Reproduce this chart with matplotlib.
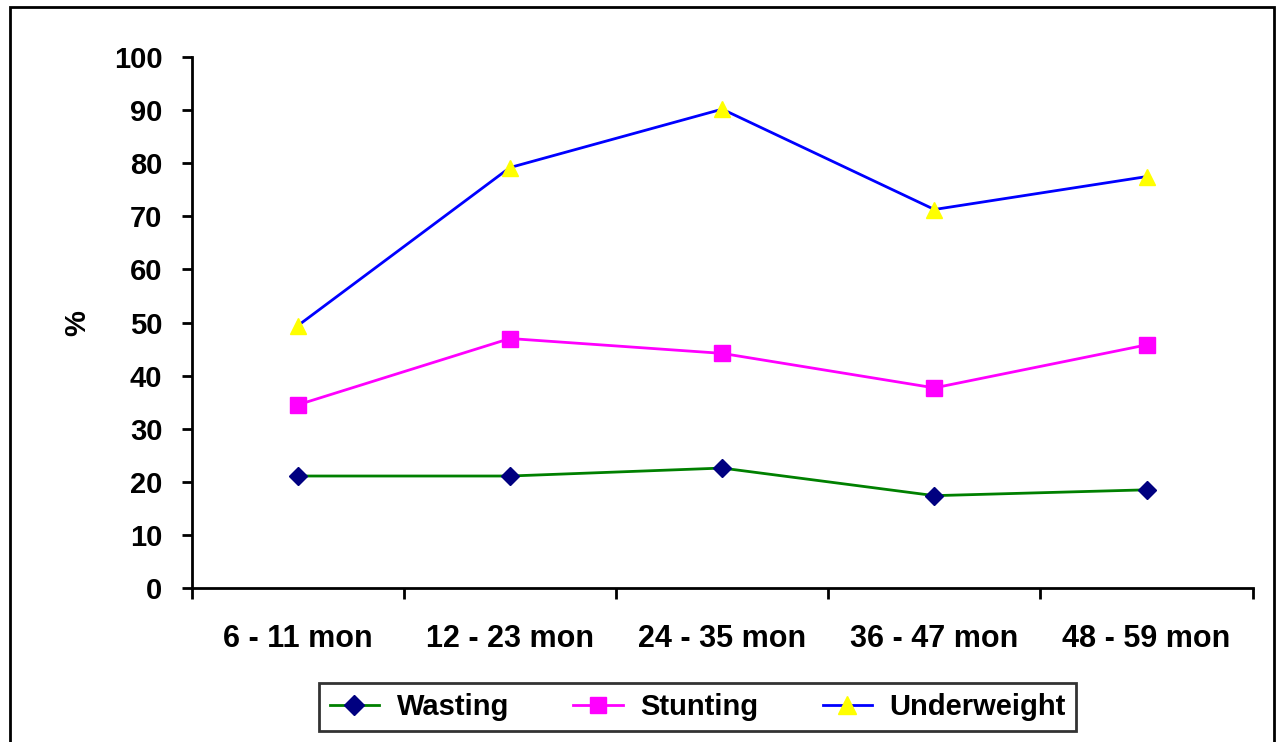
import matplotlib.pyplot as plt
from matplotlib.patches import Rectangle
import numpy as np

plt.rcParams['font.family'] = ['Liberation Sans', 'DejaVu Sans']
plt.rcParams['font.weight'] = 'bold'

groups = ['6 - 11 mon', '12 - 23 mon', '24 - 35 mon', '36 - 47 mon', '48 - 59 mon']
wasting = [21.1, 21.1, 22.6, 17.4, 18.5]
stunting = [34.5, 47.0, 44.2, 37.7, 45.8]
underweight = [49.4, 79.2, 90.2, 71.3, 77.5]

fig = plt.figure(figsize=(12.77, 7.42), dpi=100)
ax = fig.add_axes([0.150, 0.2075, 0.831, 0.7155])

x = np.arange(len(groups))
ax.plot(x, wasting, color='#008000', lw=2, marker='D', ms=9,
        mfc='#000080', mec='#000080', label='Wasting')
ax.plot(x, stunting, color='#ff00ff', lw=2, marker='s', ms=11,
        mfc='#ff00ff', mec='#ff00ff', label='Stunting')
ax.plot(x, underweight, color='#0000ff', lw=2, marker='^', ms=12,
        mfc='#ffff00', mec='#ffff00', label='Underweight')

ax.set_xlim(-0.5, len(groups) - 0.5)
ax.set_ylim(0, 100)
ax.set_yticks(range(0, 101, 10))
ax.set_xticks(np.arange(-0.5, len(groups), 1.0))
ax.set_xticklabels([])
ax.set_xticks(x, minor=True)
ax.set_xticklabels(groups, minor=True)
ax.tick_params(axis='x', which='minor', length=0, pad=26, labelsize=22)
ax.tick_params(axis='x', which='major', length=8, width=2, direction='out')
ax.tick_params(axis='y', length=7, width=2, direction='out', labelsize=21, pad=14)
for s in ['top', 'right']:
    ax.spines[s].set_visible(False)
for s in ['left', 'bottom']:
    ax.spines[s].set_linewidth(2)
ax.set_ylabel('%', fontsize=21, fontweight='bold', labelpad=16)

leg = fig.legend(loc='lower center', bbox_to_anchor=(0.5465, -0.005), ncol=3,
                 fontsize=21, frameon=True, fancybox=False, edgecolor='black',
                 handlelength=1.7, handletextpad=0.6, columnspacing=2.2,
                 borderpad=0.35, markerscale=1.1)
leg.get_frame().set_linewidth(2)
for t in leg.get_texts():
    t.set_fontweight('bold')

fig.patches.append(Rectangle((0.008, -0.05), 0.99, 1.04, transform=fig.transFigure,
                             fill=False, edgecolor='black', lw=2, zorder=0))

fig.savefig('out.png', dpi=100)
